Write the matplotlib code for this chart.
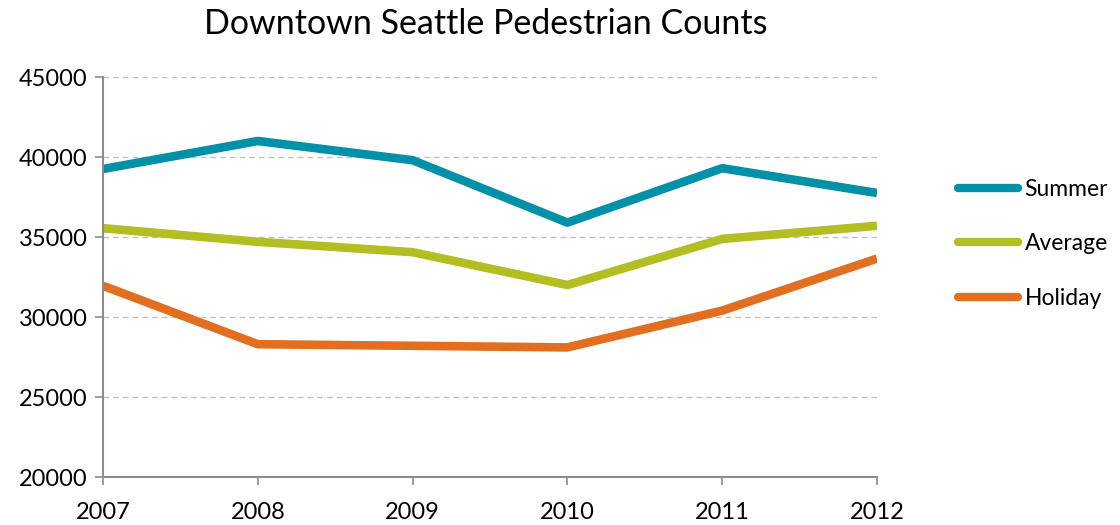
import matplotlib
matplotlib.use("Agg")
import matplotlib.pyplot as plt

years = [2007, 2008, 2009, 2010, 2011, 2012]
summer = [39250, 41000, 39800, 35900, 39300, 37750]
average = [35550, 34700, 34050, 32000, 34880, 35700]
holiday = [31950, 28300, 28200, 28100, 30400, 33650]

y_ticks = [20000, 25000, 30000, 35000, 40000, 45000]

plt.rcParams['font.family'] = ['Lato', 'DejaVu Sans']

fig = plt.figure(figsize=(11.2, 5.25), dpi=100)
ax = fig.add_axes([103 / 1120, 1 - 477 / 525, 774 / 1120, 400 / 525])

lw = 6.2
ax.plot(years, summer, color="#0090a8", lw=lw, label="Summer", solid_capstyle="butt")
ax.plot(years, average, color="#b2be22", lw=lw, label="Average", solid_capstyle="butt")
ax.plot(years, holiday, color="#e26f1f", lw=lw, label="Holiday", solid_capstyle="butt")

ax.set_xlim(2007, 2012)
ax.set_ylim(20000, 45000)
ax.set_xticks(years)
ax.set_yticks(y_ticks)
ax.set_yticklabels([str(v) for v in y_ticks])

for v in y_ticks[1:]:
    ax.axhline(v, color="#bfbfbf", lw=1, ls=(0, (4, 3)), zorder=0)

for side in ["top", "right"]:
    ax.spines[side].set_visible(False)
for side in ["left", "bottom"]:
    ax.spines[side].set_color("#8c8c8c")
    ax.spines[side].set_linewidth(1.5)

ax.tick_params(axis="y", direction="out", length=6, width=1.2, color="#8c8c8c",
               labelsize=17, pad=5)
ax.tick_params(axis="x", direction="out", length=6, width=1.2, color="#8c8c8c",
               labelsize=17, pad=12)

fig.text(486 / 1120, 1 - 24 / 525, "Downtown Seattle Pedestrian Counts",
         ha="center", va="center", fontsize=24.5)

leg = ax.legend(loc="upper left", bbox_to_anchor=(846 / 774, (477 - 170) / 400),
                frameon=False, fontsize=16.5, handlelength=2.6, handletextpad=0.3,
                labelspacing=1.45, borderaxespad=0)
for h in leg.get_lines():
    h.set_solid_capstyle("round")
    h.set_linewidth(6)

fig.savefig("out.png", dpi=100)
